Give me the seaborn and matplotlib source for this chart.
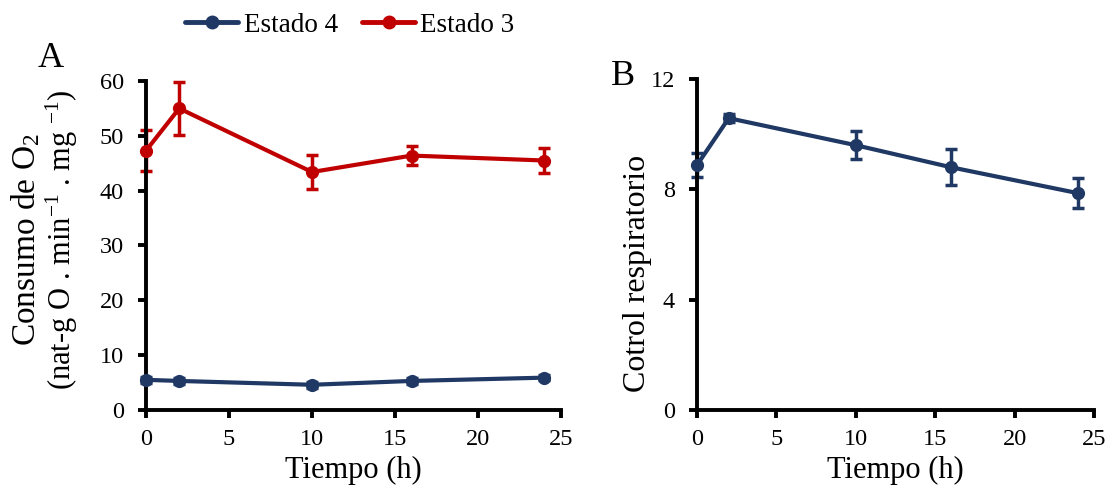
import numpy as np
import pandas as pd
import matplotlib
matplotlib.use("Agg")
import matplotlib.pyplot as plt
import seaborn as sns
from matplotlib.lines import Line2D

# ---- data ----
tiempo = [0, 2, 10, 16, 24]
estado4 = [5.5, 5.3, 4.6, 5.3, 5.9]
estado4_err = [0.5, 0.5, 0.5, 0.5, 0.5]
estado3 = [47.3, 55.0, 43.4, 46.4, 45.5]
estado3_err = [3.7, 4.9, 3.1, 1.8, 2.3]
control_resp = [8.88, 10.58, 9.6, 8.8, 7.86]
control_err = [0.45, 0.15, 0.5, 0.65, 0.55]
series_names = ["Estado 4", "Estado 3"]

navy = "#1F3864"
red = "#C00000"

sns.set_theme(style="white")
plt.rcParams["font.family"] = ["Liberation Serif", "DejaVu Serif"]
plt.rcParams["mathtext.fontset"] = "custom"
plt.rcParams["mathtext.rm"] = "Liberation Serif"
plt.rcParams["mathtext.it"] = "Liberation Serif:italic"
for k in ("text.color", "axes.labelcolor", "xtick.color", "ytick.color"):
    plt.rcParams[k] = "black"

W, H = 1110, 488
fig = plt.figure(figsize=(W / 100, H / 100), dpi=100)
axA = fig.add_axes([146 / W, 1 - 410 / H, (561 - 146) / W, (410 - 81) / H])
axB = fig.add_axes([697 / W, 1 - 410 / H, (1094 - 697) / W, (410 - 79) / H])

dfA = pd.DataFrame({
    "t": tiempo * 2,
    "v": estado4 + estado3,
    "s": [series_names[0]] * 5 + [series_names[1]] * 5,
})
sns.lineplot(data=dfA, x="t", y="v", hue="s", palette=[navy, red], marker="o",
             markersize=9.5, markeredgewidth=0, linewidth=3, ax=axA, legend=False,
             clip_on=False, zorder=3)
axA.errorbar(tiempo, estado4, yerr=estado4_err, fmt="none", ecolor=navy,
             elinewidth=2.5, capsize=4.5, capthick=2.5, clip_on=False, zorder=2)
axA.errorbar(tiempo, estado3, yerr=estado3_err, fmt="none", ecolor=red,
             elinewidth=2.5, capsize=4.5, capthick=2.5, clip_on=False, zorder=2)

dfB = pd.DataFrame({"t": tiempo, "v": control_resp})
sns.lineplot(data=dfB, x="t", y="v", color=navy, marker="o", markersize=9.5,
             markeredgewidth=0, linewidth=3, ax=axB, clip_on=False, zorder=3)
axB.errorbar(tiempo, control_resp, yerr=control_err, fmt="none", ecolor=navy,
             elinewidth=2.5, capsize=4.5, capthick=2.5, clip_on=False, zorder=2)

for ax in (axA, axB):
    ax.set_xlim(0, 25)
    ax.set_xticks([0, 5, 10, 15, 20, 25])
    for s in ("top", "right"):
        ax.spines[s].set_visible(False)
    for s in ("left", "bottom"):
        ax.spines[s].set_linewidth(2.8)
        ax.spines[s].set_color("black")
    ax.tick_params(axis="both", which="major", direction="out", length=6,
                   width=2.8, color="black", labelcolor="black", labelsize=17.5,
                   bottom=True, left=True)
    ax.tick_params(axis="x", pad=8)
    ax.tick_params(axis="y", pad=10)
    ax.set_xlabel("Tiempo (h)", fontsize=22, labelpad=4, color="black")
    ax.set_ylabel("")
    ax.grid(False)

axA.set_ylim(0, 60)
axA.set_yticks(range(0, 61, 10))
axB.set_ylim(0, 12)
axB.set_yticks([0, 4, 8, 12])

# y labels
fig.text(26 / W, 1 - 240 / H, "Consumo de O$_2$", fontsize=24, rotation=90,
         ha="center", va="center", color="black")
fig.text(62 / W, 1 - 240 / H, "(nat-g O . min$^{-1}$ . mg $^{-1}$)", fontsize=22,
         rotation=90, ha="center", va="center", color="black")
fig.text(637 / W, 1 - 273 / H, "Cotrol respiratorio", fontsize=23, rotation=90,
         ha="center", va="center", color="black")

# panel letters
fig.text(38 / W, 1 - 67 / H, "A", fontsize=26, color="black")
fig.text(611 / W, 1 - 85 / H, "B", fontsize=26, color="black")

handles = [Line2D([0], [0], color=navy, lw=3.5, marker="o", markersize=9),
           Line2D([0], [0], color=red, lw=3.5, marker="o", markersize=9)]
fig.legend(handles, series_names, loc="center", bbox_to_anchor=(350 / W, 1 - 25 / H),
           ncol=2, frameon=False, fontsize=19.5, handlelength=1.95,
           handletextpad=0.2, columnspacing=0.9, borderpad=0, borderaxespad=0,
           labelcolor="black")

fig.savefig("out.png", dpi=100)
